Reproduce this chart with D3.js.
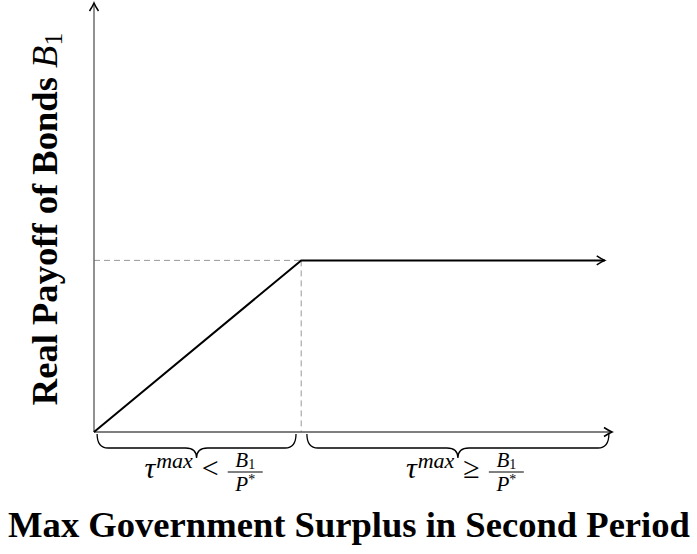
<!DOCTYPE html>
<html><head><meta charset="utf-8">
<script src="https://cdn.jsdelivr.net/npm/d3@7"></script>
<style>body{margin:0;background:#fff}svg{display:block}</style>
</head><body><svg id="c" width="697" height="554"></svg>
<script>
// ---- data ----
const xDomain = [0, 10];
const yDomain = [0, 10];
const payoffX = [0, 4, 9.86];
const payoffY = [0, 4, 4];
const kinkX = 4, kinkY = 4;
const braceStart = [0.06, 4.11];
const braceEnd = [3.9, 9.94];
const braceRel = ["<", "\u2265"];
const xTitle = "Max Government Surplus in Second Period";
const yTitle = "Real Payoff of Bonds ";

const svg = d3.select("#c");
const x = d3.scaleLinear().domain(xDomain).range([94, 612]);
const y = d3.scaleLinear().domain(yDomain).range([432, 3]);
const serif = "'Liberation Serif', 'DejaVu Serif', serif";

const defs = svg.append("defs");
function marker(id, color){
  defs.append("marker").attr("id", id).attr("viewBox","-9 -6 11 12")
    .attr("refX",0).attr("refY",0).attr("markerWidth",11).attr("markerHeight",12)
    .attr("markerUnits","userSpaceOnUse").attr("orient","auto")
    .append("path").attr("d","M-8,-4.5 Q-3,-1.2 0,0 Q-3,1.2 -8,4.5")
    .attr("fill","none").attr("stroke",color).attr("stroke-width",1.5);
}
marker("ah","#000");

// dashed guides
svg.append("line").attr("x1",x(0)).attr("x2",x(kinkX)).attr("y1",y(kinkY)).attr("y2",y(kinkY))
  .attr("stroke","#999").attr("stroke-width",1).attr("stroke-dasharray","6,4");
svg.append("line").attr("x1",x(kinkX)).attr("x2",x(kinkX)).attr("y1",y(kinkY)).attr("y2",y(0))
  .attr("stroke","#999").attr("stroke-width",1).attr("stroke-dasharray","6,4");

// axes
svg.append("line").attr("x1",x(0)).attr("y1",y(0)).attr("x2",x(xDomain[1])).attr("y2",y(0))
  .attr("stroke","#555").attr("stroke-width",1.3).attr("marker-end","url(#ah)");
svg.append("line").attr("x1",x(0)).attr("y1",y(0)).attr("x2",x(0)).attr("y2",y(yDomain[1]))
  .attr("stroke","#555").attr("stroke-width",1.3).attr("marker-end","url(#ah)");

// payoff curve
const pts = payoffX.map((v,i)=>[v,payoffY[i]]);
svg.append("path").datum(pts)
  .attr("d", d3.line().x(d=>x(d[0])).y(d=>y(d[1])))
  .attr("fill","none").attr("stroke","#000").attr("stroke-width",2)
  .attr("stroke-linejoin","miter").attr("marker-end","url(#ah)");

// braces
function brace(x1, x2, y0){
  const a = 14, t = 10, r = 11, m = (x1+x2)/2;
  return `M${x1},${y0} Q${x1},${y0+a} ${x1+r},${y0+a} L${m-r},${y0+a} Q${m},${y0+a} ${m},${y0+a+t}`+
         ` Q${m},${y0+a} ${m+r},${y0+a} L${x2-r},${y0+a} Q${x2},${y0+a} ${x2},${y0}`;
}
braceStart.forEach((s,i)=>{
  const x1 = x(s), x2 = x(braceEnd[i]);
  svg.append("path").attr("d", brace(x1,x2,y(0)+2))
    .attr("fill","none").attr("stroke","#000").attr("stroke-width",1.3);
  const cx = (x1+x2)/2 + 7;
  const g = svg.append("g").attr("transform",`translate(${cx},0)`);
  const t = g.append("text").attr("y",478).attr("font-family",serif).attr("font-size",30).attr("fill","#000");
  t.append("tspan").attr("font-style","italic").text("\u03C4");
  t.append("tspan").attr("font-style","italic").attr("font-size",22).attr("dy",-10).attr("dx",1).text("max");
  t.append("tspan").attr("dy",10).attr("dx",9).attr("font-size",30).text(braceRel[i]);
  const tw = t.node().getBBox().width;
  const fw = 35, gap = 9;
  const total = tw + gap + fw;
  t.attr("x", -total/2);
  const fx = -total/2 + tw + gap;
  g.append("line").attr("x1",fx).attr("x2",fx+fw).attr("y1",472).attr("y2",472).attr("stroke","#000").attr("stroke-width",1);
  const num = g.append("text").attr("x",fx+fw/2).attr("y",467).attr("text-anchor","middle")
    .attr("font-family",serif).attr("font-size",21);
  num.append("tspan").attr("font-style","italic").text("B");
  num.append("tspan").attr("font-size",14).attr("dy",2).text("1");
  const den = g.append("text").attr("x",fx+fw/2).attr("y",491).attr("text-anchor","middle")
    .attr("font-family",serif).attr("font-size",21);
  den.append("tspan").attr("font-style","italic").text("P");
  den.append("tspan").attr("font-size",14).attr("dy",-7).text("*");
});

// x title
const xt = svg.append("text").attr("x",349).attr("y",537).attr("text-anchor","middle")
  .attr("font-family",serif).attr("font-weight","bold").attr("font-size",30).attr("fill","#000").text(xTitle);
const w = xt.node().getComputedTextLength();
const fs = 30*682/w;
xt.attr("font-size", fs);

// y title
const yt = svg.append("text").attr("transform","translate(57,219) rotate(-90)").attr("text-anchor","middle")
  .attr("font-family",serif).attr("font-size",fs).attr("fill","#000");
yt.append("tspan").attr("font-weight","bold").text(yTitle);
yt.append("tspan").attr("font-style","italic").text("B");
yt.append("tspan").attr("font-size",fs*0.7).attr("dy",5).text("1");
</script></body></html>
